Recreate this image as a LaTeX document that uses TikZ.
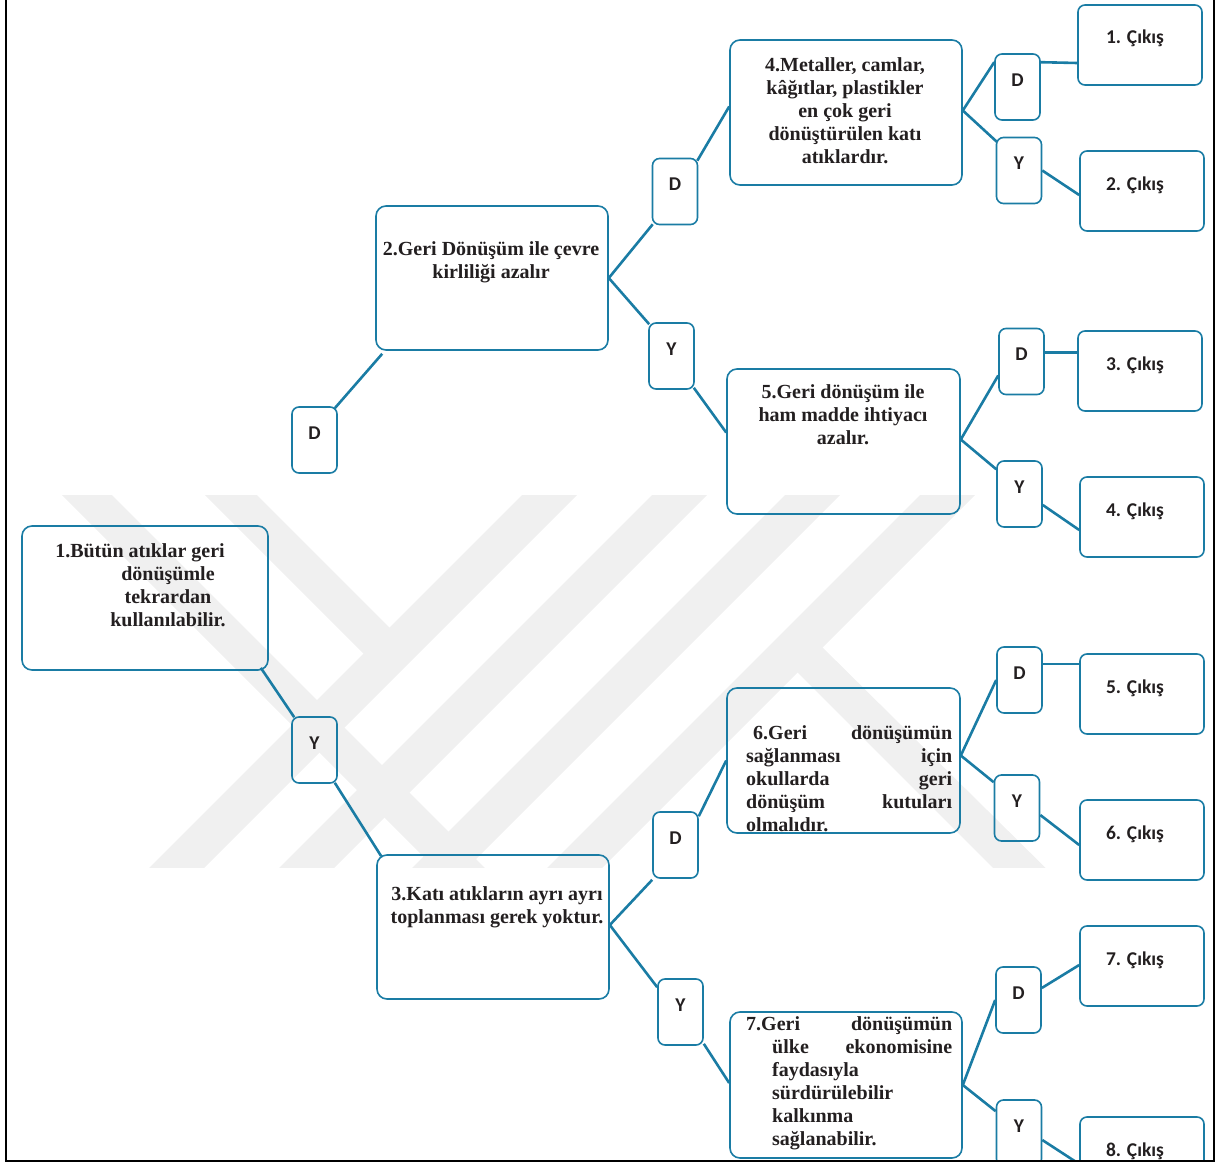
\documentclass[tikz,border=0pt]{standalone}
\usepackage{fontspec}
\setmainfont{Liberation Serif}
\newfontfamily\labfont{Carlito}
\definecolor{flowblue}{RGB}{26,124,164}
\definecolor{wmgray}{RGB}{240,240,240}
\definecolor{ink}{RGB}{35,31,32}
\begin{document}
\begin{tikzpicture}[x=1pt,y=-1pt,
  stmt/.style={draw=flowblue,line width=1.6pt,rounded corners=10pt,inner sep=0pt},
  ans/.style={draw=flowblue,line width=1.6pt,rounded corners=7pt,minimum width=45pt,minimum height=66pt,
    inner sep=0pt,text height=12pt,text depth=14pt,text=ink,font=\labfont\bfseries\fontsize{19.5}{22}\selectfont},
  outbox/.style={draw=flowblue,line width=1.6pt,rounded corners=7pt,minimum width=124pt,minimum height=80pt,
    inner sep=0pt,text height=12pt,text depth=14pt,text=ink,font=\labfont\bfseries\fontsize{19.5}{22}\selectfont},
  stmttext/.style={font=\bfseries\fontsize{20}{23}\selectfont,text=ink,inner sep=0pt,align=center,anchor=north},
  justtext/.style={font=\bfseries\fontsize{20}{23}\selectfont,text=ink,inner sep=0pt,align=left,
    text width=206pt,anchor=north west,execute at begin node={\parindent=0pt}},
  link/.style={draw=flowblue,line width=2.6pt},
  band/.style={fill=wmgray,draw=none}
]
\useasboundingbox (0,0) rectangle (1219,1164);

% faint background emblem made of diagonal bands
\begin{scope}
  \clip (0,495) rectangle (1219,867);
  \path[band] (62,495) -- (112,495) -- (512,895) -- (462,895) -- cycle;
  \path[band] (205,495) -- (257,495) -- (407,645) -- (380,670) -- cycle;
  \foreach \t in {522,652,785,920}
    \path[band] (\t,495) -- ({\t+55},495) -- ({\t-345},895) -- ({\t-400},895) -- cycle;
  \path[band] (790,665) -- (815,640) -- (1073,895) -- (1020,895) -- cycle;
\end{scope}

\begin{scope}
\clip (0,0) rectangle (1219,1160);

% statement boxes
\node[stmt,minimum width=246pt,minimum height=144pt] (b1) at (145,598) {};
\node[stmt,minimum width=232pt,minimum height=144pt] (b2) at (492,278) {};
\node[stmt,minimum width=232pt,minimum height=144pt] (b3) at (493,927) {};
\node[stmt,minimum width=232pt,minimum height=145pt] (b4) at (846,112.5) {};
\node[stmt,minimum width=233pt,minimum height=145pt] (b5) at (843.5,441.5) {};
\node[stmt,minimum width=233pt,minimum height=145pt] (b6) at (843.5,760.5) {};
\node[stmt,minimum width=232pt,minimum height=146pt] (b7) at (846,1085) {};

% statement texts
\node[stmttext] (t1) at (168,543) {1.Bütün atıklar geri\hspace*{56pt}\\dönüşümle\\tekrardan\\kullanılabilir.};
\node[stmttext] (t2) at (491,241) {2.Geri Dönüşüm ile çevre\\kirliliği azalır};
\node[stmttext] (t3) at (497,886) {3.Katı atıkların ayrı ayrı\\toplanması gerek yoktur.};
\node[stmttext] (t4) at (845,57) {4.Metaller, camlar,\\kâğıtlar, plastikler\\en çok geri\\dönüştürülen katı\\atıklardır.};
\node[stmttext] (t5) at (843,384) {5.Geri dönüşüm ile\\ham madde ihtiyacı\\azalır.};
\node[justtext] (t6) at (746,725) {\hspace*{7pt}6.Geri\hfill dönüşümün\\sağlanması\hfill için\\okullarda\hfill geri\\dönüşüm\hfill kutuları\\olmalıdır.};
\node[justtext] (t7) at (746,1016) {7.Geri\hfill dönüşümün\\\hspace*{26pt}ülke\hfill ekonomisine\\\hspace*{26pt}faydasıyla\\\hspace*{26pt}sürdürülebilir\\\hspace*{26pt}kalkınma\\\hspace*{26pt}sağlanabilir.};

% yes / no boxes
\node[ans] (dA) at (314.5,440) {D};
\node[ans] (yA) at (314.5,750) {Y};
\node[ans] (d2) at (675,191.5) {D};
\node[ans] (y2) at (671.5,356) {Y};
\node[ans] (d3) at (675.5,845) {D};
\node[ans] (y3) at (680.5,1012) {Y};
\node[ans] (d4) at (1017.5,87) {D};
\node[ans] (y4) at (1019,170.5) {Y};
\node[ans] (d5) at (1021.5,361.5) {D};
\node[ans] (y5) at (1019.5,494) {Y};
\node[ans] (d6) at (1019.5,680) {D};
\node[ans] (y6) at (1017,808) {Y};
\node[ans] (d7) at (1018.5,1000) {D};
\node[ans] (y7) at (1019,1133) {Y};

% outcome boxes
\node[outbox] (o1) at (1140,45) {1. Çıkış\hspace*{10pt}};
\node[outbox] (o2) at (1142,191) {2. Çıkış\hspace*{14pt}};
\node[outbox] (o3) at (1140,371) {3. Çıkış\hspace*{10pt}};
\node[outbox] (o4) at (1142,517) {4. Çıkış\hspace*{14pt}};
\node[outbox] (o5) at (1142,694) {5. Çıkış\hspace*{14pt}};
\node[outbox] (o6) at (1142,840) {6. Çıkış\hspace*{14pt}};
\node[outbox] (o7) at (1142,966) {7. Çıkış\hspace*{14pt}};
\node[outbox] (o8) at (1142,1157) {8. Çıkış\hspace*{14pt}};

% connectors
\draw[link] ([shift={(-8,-3)}]b1.south east) -- ([shift={(3,1)}]yA.north west);
\draw[link] ([shift={(-3,-1)}]yA.south east) -- ([shift={(5,2)}]b3.north west);
\draw[link] ([shift={(7,3)}]b2.south west) -- ([shift={(-3,2)}]dA.north east);
\draw[link] (b2.east) -- ([shift={(1,-1)}]d2.south west);
\draw[link] (b2.east) -- ([shift={(1,2)}]y2.north west);
\draw[link] ([shift={(-1,3)}]d2.north east) -- ([shift={(0,-6)}]b4.west);
\draw[link] ([shift={(-1,-2)}]y2.south east) -- ([shift={(0,-9)}]b5.west);
\draw[link] ([shift={(0,-2)}]b4.east) -- ([shift={(0,9)}]d4.north west);
\draw[link] ([shift={(0,-2)}]b4.east) -- ([shift={(1,5)}]y4.north west);
\draw[link] ([shift={(0,9)}]d4.north east) -- ([shift={(0,18)}]o1.west);
\draw[link] (y4.east) -- ([shift={(0,4)}]o2.west);
\draw[link] ([shift={(0,-2)}]b5.east) -- ([shift={(0,14)}]d5.west);
\draw[link] ([shift={(0,-2)}]b5.east) -- ([shift={(0,9)}]y5.north west);
\draw[link] ([shift={(0,-9)}]d5.east) -- ([shift={(0,-18.5)}]o3.west);
\draw[link] ([shift={(0,11)}]y5.east) -- ([shift={(0,13)}]o4.west);
\draw[link] ([shift={(0,-2)}]b3.east) -- ([shift={(0,1)}]d3.south west);
\draw[link] ([shift={(0,-2)}]b3.east) -- ([shift={(0,9)}]y3.north west);
\draw[link] ([shift={(0,5)}]d3.north east) -- (b6.west);
\draw[link] ([shift={(0,-2)}]y3.south east) -- ([shift={(0,-2)}]b7.west);
\draw[link] ([shift={(0,-5)}]b6.east) -- (d6.west);
\draw[link] ([shift={(0,-5)}]b6.east) -- ([shift={(0,8)}]y6.north west);
\draw[link] ([shift={(0,-16)}]d6.east) -- ([shift={(0,-30)}]o5.west);
\draw[link] ([shift={(0,7)}]y6.east) -- ([shift={(0,5)}]o6.west);
\draw[link] (b7.east) -- (d7.west);
\draw[link] (b7.east) -- ([shift={(0,12)}]y7.north west);
\draw[link] ([shift={(0,-12)}]d7.east) -- ([shift={(0,-1)}]o7.west);
\draw[link] ([shift={(0,7)}]y7.east) -- ([shift={(0,7)}]o8.west);
\end{scope}

% page frame
\draw[line width=2pt,black] (6,0) -- (6,1161) -- (1214,1161) -- (1214,0);
\end{tikzpicture}
\end{document}
